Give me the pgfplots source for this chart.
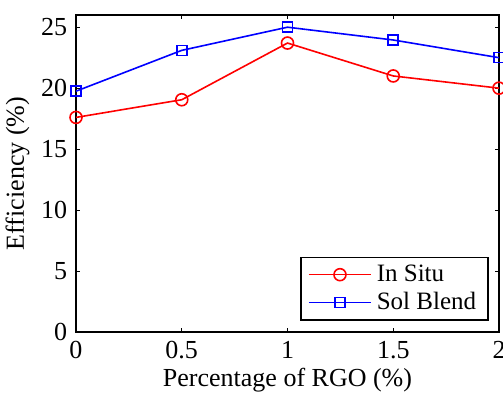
\documentclass[border=0pt]{standalone}
\usepackage{pgfplots}
\pgfplotsset{compat=1.18}
\usepackage{fontspec}
\setmainfont{Liberation Serif}
\begin{document}
\fontsize{26}{30}\selectfont
\begin{tikzpicture}
\begin{axis}[
  scale only axis,
  width=423pt, height=317pt,
  xmin=0, xmax=2, ymin=0, ymax=26,
  xtick={0,0.5,1,1.5,2},
  xticklabels={0,0.5,1,1.5,2},
  ytick={0,5,10,15,20,25},
  tick align=inside,
  major tick length=4pt,
  axis line style={line width=1.5pt},
  tick style={line width=1pt, black},
  /pgf/number format/assume math mode=true,
  tick label style={font=\fontsize{26}{30}\selectfont},
  label style={font=\fontsize{26}{30}\selectfont},
  xlabel={Percentage of RGO (\%)},
  ylabel={Efficiency (\%)},
  xlabel style={yshift=8pt},
  ylabel style={yshift=-6pt},
  legend style={at={(0.976,0.035)}, anchor=south east, draw=black, line width=1.5pt,
     font=\fontsize{25}{28}\selectfont, inner xsep=7pt, inner ysep=6pt, row sep=5pt,
     nodes={inner xsep=5pt, inner ysep=1pt}},
  legend cell align=left,
  legend image code/.code={
     \draw[mark repeat=2,mark phase=2,#1] plot coordinates {(0pt,0pt) (31pt,0pt) (62pt,0pt)};},
]
\addplot[red, line width=1.6pt, mark=o, mark size=6pt, mark options={line width=1.6pt}]
  coordinates {(0,17.6) (0.5,19.05) (1,23.7) (1.5,21.0) (2,20.0)};
\addlegendentry{In Situ}
\addplot[blue, line width=1.6pt, mark=square, mark size=5pt, mark options={line width=1.6pt}]
  coordinates {(0,19.75) (0.5,23.1) (1,25.0) (1.5,23.95) (2,22.5)};
\addlegendentry{Sol Blend}
\end{axis}
\pgfresetboundingbox
\useasboundingbox (-76pt,-62pt) rectangle (427pt,332pt);
\end{tikzpicture}
\end{document}
